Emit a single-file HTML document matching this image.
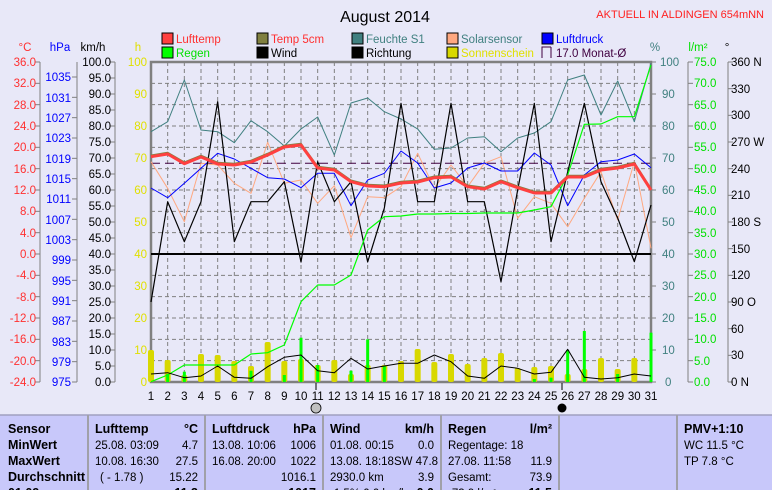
<!DOCTYPE html>
<html><head><meta charset="utf-8">
<style>
body{margin:0;background:#e8e8f8;width:772px;height:490px;overflow:hidden;font-family:"Liberation Sans",sans-serif}
svg{position:absolute;left:0;top:0}
.t{font-family:"Liberation Sans",sans-serif;font-size:11.5px}
.tb{font-family:"Liberation Sans",sans-serif;font-size:12.5px;font-weight:bold}
</style></head><body>
<svg width="772" height="490" viewBox="0 0 772 490" xmlns="http://www.w3.org/2000/svg">
<rect width="772" height="490" fill="#e8e8f8"/>
<text x="385" y="22" font-size="16" text-anchor="middle" font-family="Liberation Sans" fill="#000">August 2014</text>
<text x="764" y="18" font-size="11" text-anchor="end" font-family="Liberation Sans" fill="#ff2020">AKTUELL IN ALDINGEN 654mNN</text>
<g class="t">
<rect x="162" y="33" width="11" height="11" fill="#ff4040" stroke="#000"/><text x="176" y="43" fill="#ff3030">Lufttemp</text>
<rect x="257" y="33" width="11" height="11" fill="#808040" stroke="#000"/><text x="271" y="43" fill="#ff3030">Temp 5cm</text>
<rect x="352" y="33" width="11" height="11" fill="#408080" stroke="#000"/><text x="366" y="43" fill="#408080">Feuchte S1</text>
<rect x="447" y="33" width="11" height="11" fill="#ffa880" stroke="#000"/><text x="461" y="43" fill="#408080">Solarsensor</text>
<rect x="542" y="33" width="11" height="11" fill="#0000ff" stroke="#000"/><text x="556" y="43" fill="#0000ff">Luftdruck</text>
<rect x="162" y="47" width="11" height="11" fill="#00ff00" stroke="#000"/><text x="176" y="57" fill="#00e000">Regen</text>
<rect x="257" y="47" width="11" height="11" fill="#000" stroke="#000"/><text x="271" y="57" fill="#000">Wind</text>
<rect x="352" y="47" width="11" height="11" fill="#000" stroke="#000"/><text x="366" y="57" fill="#000">Richtung</text>
<rect x="447" y="47" width="11" height="11" fill="#d8d800" stroke="#000"/><text x="461" y="57" fill="#e0e000">Sonnenschein</text>
<path d="M542 58V47H551" fill="none" stroke="#400040"/><path d="M551 47V58" stroke="#400040"/><text x="556" y="57" fill="#400040">17.0 Monat-Ø</text>
<text x="25" y="51" fill="#ff3030" text-anchor="middle">°C</text>
<text x="60" y="51" fill="#0000ff" text-anchor="middle">hPa</text>
<text x="93" y="51" fill="#000" text-anchor="middle">km/h</text>
<text x="138" y="51" fill="#e0e000" text-anchor="middle">h</text>
<text x="655" y="51" fill="#408080" text-anchor="middle">%</text>
<text x="698" y="51" fill="#00e000" text-anchor="middle">l/m²</text>
<text x="727" y="51" fill="#000" text-anchor="middle">°</text>
</g>
<g id="grid" stroke="#808080" stroke-dasharray="4,3" stroke-width="1"></g>
<g id="axes" stroke="#808080" fill="none"></g>
<g class="t" fill="#ff3030" text-anchor="end">
<text x="36" y="66">36.0</text><text x="36" y="87">32.0</text><text x="36" y="109">28.0</text><text x="36" y="130">24.0</text><text x="36" y="151">20.0</text><text x="36" y="173">16.0</text><text x="36" y="194">12.0</text><text x="36" y="215">8.0</text><text x="36" y="237">4.0</text><text x="36" y="258">0.0</text><text x="36" y="279">-4.0</text><text x="36" y="301">-8.0</text><text x="36" y="322">-12.0</text><text x="36" y="343">-16.0</text><text x="36" y="365">-20.0</text><text x="36" y="386">-24.0</text>
</g>
<g class="t" fill="#0000ff" text-anchor="end">
<text x="71" y="81">1035</text><text x="71" y="102">1031</text><text x="71" y="122">1027</text><text x="71" y="142">1023</text><text x="71" y="163">1019</text><text x="71" y="183">1015</text><text x="71" y="203">1011</text><text x="71" y="224">1007</text><text x="71" y="244">1003</text><text x="71" y="264">999</text><text x="71" y="285">995</text><text x="71" y="305">991</text><text x="71" y="325">987</text><text x="71" y="346">983</text><text x="71" y="366">979</text><text x="71" y="386">975</text>
</g>
<g class="t" fill="#000" text-anchor="end">
<text x="111" y="66">100.0</text><text x="111" y="82">95.0</text><text x="111" y="98">90.0</text><text x="111" y="114">85.0</text><text x="111" y="130">80.0</text><text x="111" y="146">75.0</text><text x="111" y="162">70.0</text><text x="111" y="178">65.0</text><text x="111" y="194">60.0</text><text x="111" y="210">55.0</text><text x="111" y="226">50.0</text><text x="111" y="242">45.0</text><text x="111" y="258">40.0</text><text x="111" y="274">35.0</text><text x="111" y="290">30.0</text><text x="111" y="306">25.0</text><text x="111" y="322">20.0</text><text x="111" y="338">15.0</text><text x="111" y="354">10.0</text><text x="111" y="370">5.0</text><text x="111" y="386">0.0</text>
</g>
<g class="t" fill="#e0e000" text-anchor="end">
<text x="147" y="66">100</text><text x="147" y="98">90</text><text x="147" y="130">80</text><text x="147" y="162">70</text><text x="147" y="194">60</text><text x="147" y="226">50</text><text x="147" y="258">40</text><text x="147" y="290">30</text><text x="147" y="322">20</text><text x="147" y="354">10</text><text x="147" y="386">0</text>
</g>
<g class="t" fill="#408080">
<text x="660" y="66">100</text><text x="662" y="98">90</text><text x="662" y="130">80</text><text x="662" y="162">70</text><text x="662" y="194">60</text><text x="662" y="226">50</text><text x="662" y="258">40</text><text x="662" y="290">30</text><text x="662" y="322">20</text><text x="662" y="354">10</text><text x="665" y="386">0</text>
</g>
<g class="t" fill="#00e000">
<text x="694" y="66">75.0</text><text x="694" y="87">70.0</text><text x="694" y="109">65.0</text><text x="694" y="130">60.0</text><text x="694" y="151">55.0</text><text x="694" y="173">50.0</text><text x="694" y="194">45.0</text><text x="694" y="215">40.0</text><text x="694" y="237">35.0</text><text x="694" y="258">30.0</text><text x="694" y="279">25.0</text><text x="694" y="301">20.0</text><text x="694" y="322">15.0</text><text x="694" y="343">10.0</text><text x="694" y="365">5.0</text><text x="694" y="386">0.0</text>
</g>
<g class="t" fill="#000">
<text x="731" y="66">360 N</text><text x="731" y="93">330</text><text x="731" y="119">300</text><text x="731" y="146">270 W</text><text x="731" y="173">240</text><text x="731" y="199">210</text><text x="731" y="226">180 S</text><text x="731" y="253">150</text><text x="731" y="279">120</text><text x="731" y="306">90 O</text><text x="731" y="333">60</text><text x="731" y="359">30</text><text x="731" y="386">0 N</text>
</g>
<g class="t" fill="#000" text-anchor="middle">
<text x="151" y="400">1</text><text x="167.7" y="400">2</text><text x="184.3" y="400">3</text><text x="201" y="400">4</text><text x="217.7" y="400">5</text><text x="234.3" y="400">6</text><text x="251" y="400">7</text><text x="267.7" y="400">8</text><text x="284.3" y="400">9</text><text x="301" y="400">10</text><text x="317.7" y="400">11</text><text x="334.3" y="400">12</text><text x="351" y="400">13</text><text x="367.7" y="400">14</text><text x="384.3" y="400">15</text><text x="401" y="400">16</text><text x="417.7" y="400">17</text><text x="434.3" y="400">18</text><text x="451" y="400">19</text><text x="467.7" y="400">20</text><text x="484.3" y="400">21</text><text x="501" y="400">22</text><text x="517.7" y="400">23</text><text x="534.3" y="400">24</text><text x="551" y="400">25</text><text x="567.7" y="400">26</text><text x="584.3" y="400">27</text><text x="601" y="400">28</text><text x="617.7" y="400">29</text><text x="634.3" y="400">30</text><text x="651" y="400">31</text>
</g>
<g id="bars"></g>
<g id="lines" fill="none"></g>
<circle cx="316" cy="408" r="5" fill="#c0c0c0" stroke="#000" stroke-width="0.8"/>
<circle cx="562" cy="408" r="4.5" fill="#000"/>
<line x1="316" y1="383" x2="316" y2="390" stroke="#000"/>
<line x1="562" y1="383" x2="562" y2="390" stroke="#000"/>
<rect x="0" y="415" width="772" height="75" fill="#c8c8fa"/>
<line x1="0" y1="415" x2="772" y2="415" stroke="#a0a0c0" stroke-width="1.5"/>
<g stroke="#a0a0a8" stroke-width="2">
<line x1="88" y1="415" x2="88" y2="490"/><line x1="205" y1="415" x2="205" y2="490"/><line x1="323" y1="415" x2="323" y2="490"/><line x1="441" y1="415" x2="441" y2="490"/><line x1="559" y1="415" x2="559" y2="490"/><line x1="677" y1="415" x2="677" y2="490"/>
</g>
<g class="tb" fill="#000">
<text x="8" y="433">Sensor</text><text x="8" y="449">MinWert</text><text x="8" y="465">MaxWert</text><text x="8" y="481">Durchschnitt</text><text x="8" y="497">01.09.</text>
<text x="95" y="433">Lufttemp</text><text x="198" y="433" text-anchor="end">°C</text>
<text x="212" y="433">Luftdruck</text><text x="316" y="433" text-anchor="end">hPa</text>
<text x="330" y="433">Wind</text><text x="434" y="433" text-anchor="end">km/h</text>
<text x="448" y="433">Regen</text><text x="552" y="433" text-anchor="end">l/m²</text>
<text x="684" y="433">PMV+1:10</text>
<text x="198" y="497" text-anchor="end">11.3</text><text x="316" y="497" text-anchor="end">1017</text><text x="434" y="497" text-anchor="end">0.0</text><text x="552" y="497" text-anchor="end">11.5</text>
</g>
<g class="t" fill="#000">
<text x="95" y="449">25.08.  03:09</text><text x="198" y="449" text-anchor="end">4.7</text>
<text x="95" y="465">10.08.  16:30</text><text x="198" y="465" text-anchor="end">27.5</text>
<text x="100" y="481">( - 1.78 )</text><text x="198" y="481" text-anchor="end">15.22</text>
<text x="212" y="449">13.08.  10:06</text><text x="316" y="449" text-anchor="end">1006</text>
<text x="212" y="465">16.08.  20:00</text><text x="316" y="465" text-anchor="end">1022</text>
<text x="316" y="481" text-anchor="end">1016.1</text>
<text x="330" y="449">01.08.  00:15</text><text x="434" y="449" text-anchor="end">0.0</text>
<text x="330" y="465">13.08.  18:18SW 47.8</text>
<text x="330" y="481">2930.0 km</text><text x="434" y="481" text-anchor="end">3.9</text>
<text x="330" y="497">-1.5% 0.0 km/h</text>
<text x="448" y="449">Regentage: 18</text>
<text x="448" y="465">27.08.  11:58</text><text x="552" y="465" text-anchor="end">11.9</text>
<text x="448" y="481">Gesamt:</text><text x="552" y="481" text-anchor="end">73.9</text>
<text x="448" y="497">-73.9 l/m²</text>
<text x="684" y="449">WC 11.5 °C</text>
<text x="684" y="465">TP 7.8 °C</text>
</g>
</svg>
<script>
(function(){
var NS="http://www.w3.org/2000/svg";
function el(p,t,a){var e=document.createElementNS(NS,t);for(var k in a)e.setAttribute(k,a[k]);document.getElementById(p).appendChild(e);return e;}
function X(d){return 151+(d-1)*500/30;}
for(var d=2;d<=30;d++)el("grid","line",{x1:X(d),y1:62,x2:X(d),y2:382});
for(var k=1;k<15;k++){var y=62+k*320/15;el("grid","line",{x1:151,y1:y,x2:651,y2:y});}
el("axes","rect",{x:151,y:62,width:500,height:320,"stroke-width":2.5});
function vax(x,y0,n,step,dir){el("axes","line",{x1:x,y1:y0,x2:x,y2:382});for(var i=0;i<=n;i++){var y=382-i*step;el("axes","line",{x1:x,y1:y,x2:x+dir*5,y2:y});}}
vax(40,62,15,320/15,-1);
vax(77,62,15,305/15,-1);
vax(115,62,20,16,-1);
vax(651,62,10,32,1);
vax(688,62,15,320/15,1);
vax(728,62,12,320/12,1);
var sun=[350,360,375,354,355,361,366,342,361,359,365,360,374,365,365,361,349,362,354,364,358,353,368,367,366,374,369,358,369,358,382];
for(var i=0;i<31;i++){if(sun[i]<381){var x=X(i+1);el("bars","rect",{x:x-3,y:sun[i],width:6,height:382-sun[i],rx:2,fill:"#d8d800"});}}
var rain={2:374,3:371.7,7:370.7,9:375,10:337.7,11:365,13:370.7,14:339.3,15:366,24:379,25:377.7,26:350,27:331,29:374,31:332.7};
for(var k in rain){var x=X(+k);el("bars","rect",{x:x-1.5,y:rain[k],width:3,height:382-rain[k],fill:"#00ff00"});}
function pl(arr,c,w,dash){var p=arr.map(function(v,i){return X(i+1)+","+v;}).join(" ");var a={points:p,stroke:c,"stroke-width":w,"stroke-linejoin":"round"};if(dash)a["stroke-dasharray"]=dash;el("lines","polyline",a);}
el("lines","line",{x1:151,y1:254,x2:651,y2:254,stroke:"#000","stroke-width":2});
el("lines","line",{x1:151,y1:163.3,x2:651,y2:163.3,stroke:"#400040","stroke-width":1,"stroke-dasharray":"9,5"});
var teal=[131.7,121.7,80,130,131.7,142.7,120.7,131.7,146,129,117,155,103,98,111.7,119,129,149.3,148,138,136.7,151.7,138,133,121.7,80,75,115,81,121.7,63.3];
var blue=[188,197.7,183.3,168.3,153.3,159,168.3,177.7,179,187.7,173.3,173.3,205.7,180,173.3,151,163,188,183,168,163,171,171,153,165,205.7,175,161.7,160,154,167.7];
var sal=[161.7,188.3,221.7,163.3,165,183.3,193.3,142.3,183.3,180,203.3,185.7,237.7,196.7,197.7,186.7,153.3,188.3,165,186.7,163.3,156.7,218.3,196.7,203.3,226.7,198.3,171.7,220,161.7,248.3];
var dir=[302,201.7,241.7,201.7,101.7,241.7,201.7,201.7,181.7,262,161.7,201.7,181.7,262,208,103.3,201.7,201.7,103.3,201.7,201.7,281.7,190,103.3,241.7,172,103.3,181.7,218,261.7,205];
var rc=[381.7,375,365,365,365,365,354,352.7,345,301.7,285,285,275,230,216.7,216,214,214,213.5,213.5,213,213,213,210,206.7,175,124.3,124,116.7,116.7,65];
var wind=[374,372.7,377.7,376,366,377.3,378.3,366.7,357.3,355,370.7,372.7,358.3,369,366,363.3,363.3,355,361.7,376,378.3,366,368.3,374,372.3,349.3,377.3,379,377.7,374,376];
var temp=[156.7,154,163.7,157,164,165,162,155,147,145,168,170,181.7,186,186.7,183,182,177.7,177,186.7,189,181.7,187.7,193,193,177,177,170,168,164,190];
pl(sal,"#ffa880",1);
pl(teal,"#408080",1);
pl(blue,"#0000ff",1);
pl(dir,"#000",1.2);
pl(rc,"#00ff00",1.2);
pl(wind,"#000",1);
pl(temp.map(function(v){return v-1.5;}),"#808040",1.5);
pl(temp,"#ff4040",3);
})();
</script>
</body></html>
